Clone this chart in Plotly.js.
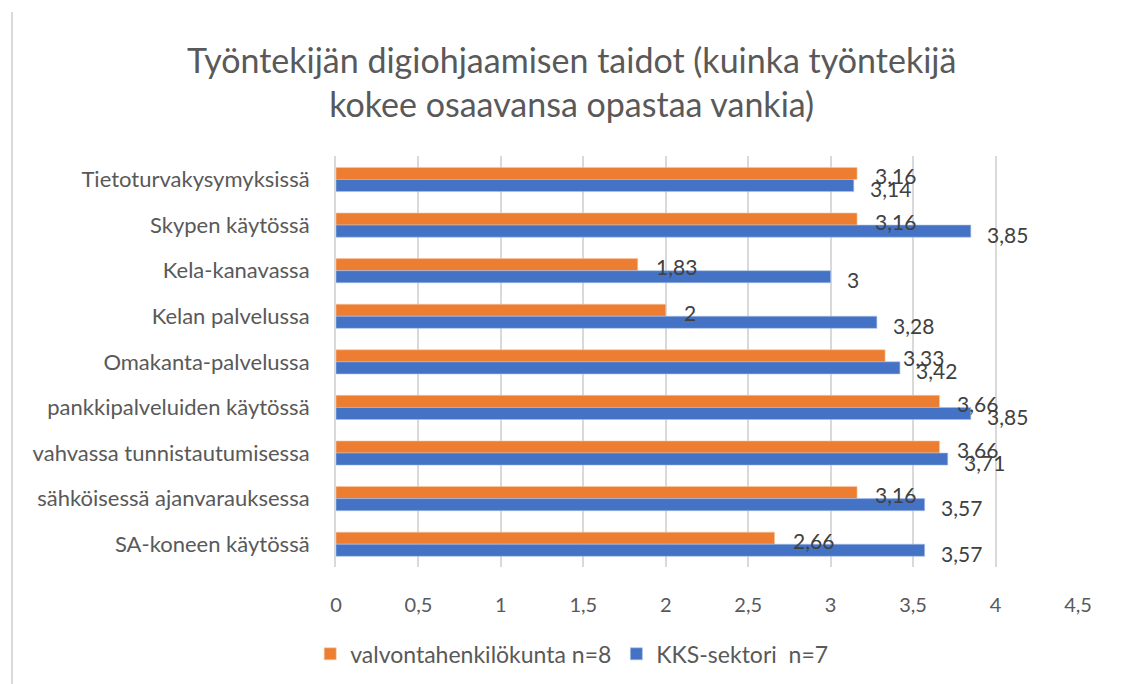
<!DOCTYPE html>
<html>
<head>
<meta charset="utf-8">
<script src="https://cdn.plot.ly/plotly-3.0.1.min.js"></script>
<style>
  html, body { margin: 0; padding: 0; background: #fff; }
  #wrap { position: relative; width: 1121px; height: 684px; }
  #chart { width: 1121px; height: 684px; }
  #frame { position: absolute; left: 11px; top: 12px; width: 0; height: 672px; border-left: 2px solid #d9d9d9; }
</style>
</head>
<body>
<div id="wrap">
  <div id="chart"></div>
  <div id="frame"></div>
</div>
<script>
const categories = [
  "Tietoturvakysymyksissä",
  "Skypen käytössä",
  "Kela-kanavassa",
  "Kelan palvelussa",
  "Omakanta-palvelussa",
  "pankkipalveluiden käytössä",
  "vahvassa tunnistautumisessa",
  "sähköisessä ajanvarauksessa",
  "SA-koneen käytössä"
];
const valvonta = [3.16, 3.16, 1.83, 2, 3.33, 3.66, 3.66, 3.16, 2.66];
const kks = [3.14, 3.85, 3, 3.28, 3.42, 3.85, 3.71, 3.57, 3.57];
const seriesNames = ["valvontahenkilökunta n=8", "KKS-sektori  n=7"];
const xTicks = [0, 0.5, 1, 1.5, 2, 2.5, 3, 3.5, 4, 4.5];

const fmt = v => String(v).replace('.', ',');
const FONT = 'Lato, "Open Sans", sans-serif';

const traces = [
  {
    type: 'bar', orientation: 'h', name: seriesNames[0],
    y: categories, x: valvonta,
    marker: { color: '#ED7D31', line: { color: '#f6c7a6', width: 0.6 } },
    hoverinfo: 'x+y'
  },
  {
    type: 'bar', orientation: 'h', name: seriesNames[1],
    y: categories, x: kks,
    marker: { color: '#4472C4', line: { color: '#a9bfe6', width: 0.6 } },
    hoverinfo: 'x+y'
  }
];

const annotations = [];
categories.forEach((c, i) => {
  annotations.push({
    x: valvonta[i], y: c, xref: 'x', yref: 'y',
    text: fmt(valvonta[i]), showarrow: false,
    xanchor: 'left', yanchor: 'middle', xshift: 16, yshift: 4,
    font: { family: FONT, size: 21, color: '#404040' }
  });
  annotations.push({
    x: kks[i], y: c, xref: 'x', yref: 'y',
    text: fmt(kks[i]), showarrow: false,
    xanchor: 'left', yanchor: 'middle', xshift: 14, yshift: -9,
    font: { family: FONT, size: 21, color: '#404040' }
  });
});

const layout = {
  width: 1121, height: 684,
  margin: { l: 336, r: 43, t: 156, b: 117, pad: 0 },
  paper_bgcolor: '#ffffff', plot_bgcolor: '#ffffff',
  separators: ', ',
  font: { family: FONT, color: '#595959' },
  title: {
    text: 'Työntekijän digiohjaamisen taidot (kuinka työntekijä<br>kokee osaavansa opastaa vankia)',
    x: 0.51, xanchor: 'center', xref: 'container',
    y: 0.893, yanchor: 'middle', yref: 'container',
    font: { family: FONT, size: 34, color: '#595959' }
  },
  barmode: 'group',
  bargap: 0.47,
  bargroupgap: 0,
  xaxis: {
    range: [0, 4.5],
    tickvals: xTicks,
    ticktext: xTicks.map(fmt),
    showgrid: true, gridcolor: '#d9d9d9', gridwidth: 2,
    zeroline: false, showline: false,
    ticks: '',
    ticklabelstandoff: 24,
    tickfont: { family: FONT, size: 20, color: '#595959' },
    fixedrange: true
  },
  yaxis: {
    type: 'category',
    categoryorder: 'array', categoryarray: categories,
    autorange: 'reversed',
    showgrid: false, zeroline: false,
    showline: true, linecolor: '#d9d9d9', linewidth: 2,
    ticks: '',
    ticklabelstandoff: 20,
    tickfont: { family: FONT, size: 22, color: '#595959' },
    fixedrange: true
  },
  showlegend: true,
  legend: {
    orientation: 'h',
    xref: 'container', yref: 'container',
    x: 0.51, xanchor: 'center',
    y: 0.044, yanchor: 'middle',
    font: { family: FONT, size: 23, color: '#595959' },
    itemwidth: 30, tracegroupgap: 0,
    traceorder: 'normal'
  },
  annotations: annotations
};

Plotly.newPlot('chart', traces, layout, { displayModeBar: false });
</script>
</body>
</html>
